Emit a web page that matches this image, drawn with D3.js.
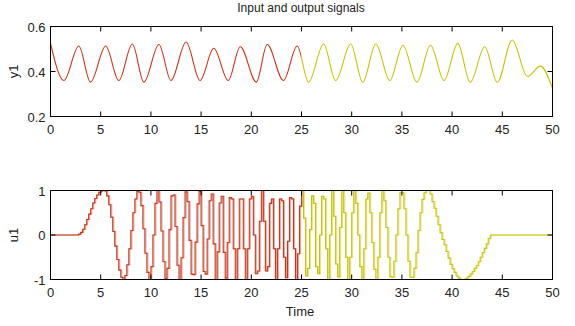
<!DOCTYPE html>
<html>
<head>
<meta charset="utf-8">
<script src="https://cdn.jsdelivr.net/npm/d3@7"></script>
<style>
  body { margin: 0; background: #fff; }
  text { font-family: 'Liberation Sans Narrow', 'Liberation Sans', Arial, sans-serif; fill: #222; }
</style>
</head>
<body>
<div id="chart"></div>
<script>
// y1: output, read as peaks / troughs off the picture
const y1Time = [0, 1.33, 2.82, 3.98, 5.5, 6.8, 8.15, 9.3, 10.8, 12.0, 13.5, 14.9, 16.26, 17.7, 18.9, 20.5,
  21.58, 23.2, 24.57, 25.7, 27.2, 28.4, 29.9, 31.1, 32.4, 33.8, 35.1, 36.5, 37.85, 39.2, 40.57, 41.8,
  43.25, 44.5, 45.98, 47.5, 48.8, 50];
const y1Value = [0.525, 0.36, 0.513, 0.353, 0.513, 0.36, 0.522, 0.353, 0.52, 0.36, 0.531, 0.36, 0.503, 0.36,
  0.51, 0.353, 0.52, 0.36, 0.513, 0.352, 0.522, 0.36, 0.522, 0.352, 0.522, 0.36, 0.517, 0.352, 0.517, 0.36,
  0.525, 0.352, 0.51, 0.352, 0.54, 0.378, 0.424, 0.324];

// u1: input, one value per sample (zero order hold)
const u1Ts = 0.2;
const u1Value = [
  0, 0, 0, 0, 0, 0, 0, 0, 0, 0, 0, 0, 0, 0,
  0.02, 0.06, 0.13, 0.23, 0.35, 0.47, 0.59, 0.72, 0.82, 0.9, 0.96, 0.99, 1.0,
  0.99, 0.88, 0.68, 0.4, 0.08, -0.25, -0.55, -0.79, -0.95, -1.0,
  -0.91, -0.67, -0.31, 0.1, 0.5, 0.81, 0.98,
  0.96, 0.66, 0.14, -0.41, -0.84, -1.0,
  -0.71, 0, 0.71, 1.0,
  0.74, 0.09, -0.6, -0.98,
  -0.75, 0.12, 0.88,
  0.9, 0.19, -0.68,
  -1.0, -0.51, 0.39, 0.97,
  0.75, -0.12, -0.88,
  -0.89, -0.16, 0.7,
  0.98, 0.21, -0.82,
  -0.88, -0.09, 0.77,
  0.92, -0.2,
  -1.0, -0.38, 0.72,
  0.87, -0.39,
  -0.97, -0.17, 0.84,
  0.81, -0.31,
  -1.0, -0.31, 0.81,
  0.81, -0.31, -1.0,
  -0.31, 0.81,
  0.87, 0, -0.87,
  -0.81, 0.31, 1.0,
  0.31, -0.81,
  -0.71, 0.71,
  0.81, -0.31,
  -1.0, -0.31, 0.81,
  0.77, -0.5,
  -0.96, -0.14, 0.84,
  0.81, -0.31,
  -1.0, -0.42, 0.65, 1.0,
  0.38, -0.92,
  -0.75, 0.12, 0.88,
  0.71, -0.71,
  -0.87, 0, 0.87,
  0.81, -0.31, -1.0,
  0, 1.0,
  0.42, -0.65,
  -0.94, 0.17, 1.0,
  0.5, -0.5, -1.0,
  -0.5, 0.5, 1.0,
  0.71, 0, -0.71, -1.0,
  -0.31, 0.81,
  0.94, 0.5, -0.17, -0.77, -1.0,
  -0.5, 0.5, 1.0,
  0.77, 0.17, -0.5, -0.94,
  -0.95, -0.59, 0, 0.59, 0.95,
  0.95, 0.59, 0, -0.59, -0.95,
  -0.95, -0.75, -0.4, 0.1, 0.5, 0.8, 0.95, 1.0, 1.0,
  0.92, 0.75, 0.6, 0.42, 0.23, 0.05, -0.1, -0.22, -0.37, -0.52, -0.66, -0.76, -0.84, -0.92, -0.97, -1.0,
  -1.0, -0.99, -0.97, -0.93, -0.88, -0.82, -0.75, -0.69, -0.6, -0.5, -0.4, -0.3, -0.2, -0.08, 0,
  0, 0, 0, 0, 0, 0, 0, 0, 0, 0, 0, 0, 0, 0, 0, 0, 0, 0, 0, 0, 0, 0, 0, 0, 0, 0, 0, 0, 0, 0, 0
];

const splitTime = 25;
const xTicks = [0, 5, 10, 15, 20, 25, 30, 35, 40, 45, 50];
const y1Ticks = [0.2, 0.4, 0.6];
const u1Ticks = [-1, 0, 1];
const colors = ['#cc3318', '#c8c400'];

const width = 575, height = 326;
const left = 50.5, right = 552.5;
const svg = d3.select('#chart').append('svg').attr('width', width).attr('height', height);

const x = d3.scaleLinear().domain([0, 50]).range([left, right]);

function drawAxes(y, top, bottom, yTicks, yFormat, yLabel) {
  const g = svg.append('g');
  g.append('rect')
    .attr('x', left).attr('y', top)
    .attr('width', right - left).attr('height', bottom - top)
    .attr('fill', 'none').attr('stroke', '#000').attr('stroke-width', 1);

  // ticks point inward on all four sides
  xTicks.forEach(t => {
    g.append('line').attr('x1', x(t)).attr('x2', x(t)).attr('y1', bottom).attr('y2', bottom - 5).attr('stroke', '#000');
    g.append('line').attr('x1', x(t)).attr('x2', x(t)).attr('y1', top).attr('y2', top + 5).attr('stroke', '#000');
  });
  yTicks.forEach(t => {
    g.append('line').attr('x1', left).attr('x2', left + 5).attr('y1', y(t)).attr('y2', y(t)).attr('stroke', '#000');
    g.append('line').attr('x1', right).attr('x2', right - 5).attr('y1', y(t)).attr('y2', y(t)).attr('stroke', '#000');
  });

  g.selectAll('.xl').data(xTicks).enter().append('text')
    .attr('x', d => x(d)).attr('y', bottom + 17)
    .attr('text-anchor', 'middle').style('font-size', '13px')
    .text(d => d);
  g.selectAll('.yl').data(yTicks).enter().append('text')
    .attr('x', left - 5).attr('y', d => y(d) + 5)
    .attr('text-anchor', 'end').style('font-size', '13px')
    .text(yFormat);

  g.append('text')
    .attr('transform', `translate(18,${(top + bottom) / 2}) rotate(-90)`)
    .attr('text-anchor', 'middle').style('font-size', '13px')
    .text(yLabel);
}

// top panel: y1
const yTop = d3.scaleLinear().domain([0.2, 0.6]).range([116.5, 26.5]);
const y1Data = y1Time.map((t, i) => [t, y1Value[i]]);
const defs = svg.append('defs');
[[0, splitTime], [splitTime, 50]].forEach((span, i) => {
  defs.append('clipPath').attr('id', `clip${i}`)
    .append('rect')
    .attr('x', x(span[0])).attr('y', 0)
    .attr('width', x(span[1]) - x(span[0])).attr('height', height);
});
const y1Line = d3.line().x(d => x(d[0])).y(d => yTop(d[1])).curve(d3.curveMonotoneX);
colors.forEach((c, i) => {
  svg.append('path').datum(y1Data)
    .attr('d', y1Line)
    .attr('clip-path', `url(#clip${i})`)
    .attr('fill', 'none').attr('stroke', c).attr('stroke-width', 1.1);
});
drawAxes(yTop, 26.5, 116.5, y1Ticks, d => d.toFixed(1), 'y1');

// bottom panel: u1
const yBot = d3.scaleLinear().domain([-1, 1]).range([279.5, 190.5]);
const u1Data = u1Value.map((v, k) => [+(k * u1Ts).toFixed(2), v]);
const u1Line = d3.line().x(d => x(d[0])).y(d => yBot(d[1])).curve(d3.curveStepAfter);
const parts = [u1Data.filter(d => d[0] <= splitTime), u1Data.filter(d => d[0] >= splitTime)];
parts.forEach((p, i) => {
  // faint shadow copy gives the doubled look of the original stairs
  svg.append('path').datum(p)
    .attr('d', u1Line)
    .attr('transform', 'translate(1,0)')
    .attr('fill', 'none').attr('stroke', colors[i]).attr('stroke-opacity', 0.4).attr('stroke-width', 1.2);
  svg.append('path').datum(p)
    .attr('d', u1Line)
    .attr('fill', 'none').attr('stroke', colors[i]).attr('stroke-width', 1.1);
});
drawAxes(yBot, 190.5, 279.5, u1Ticks, d => d, 'u1');

svg.append('text').attr('x', 301).attr('y', 12)
  .attr('text-anchor', 'middle').style('font-size', '12px')
  .text('Input and output signals');
svg.append('text').attr('x', 300).attr('y', 316)
  .attr('text-anchor', 'middle').style('font-size', '13px')
  .text('Time');
</script>
</body>
</html>
